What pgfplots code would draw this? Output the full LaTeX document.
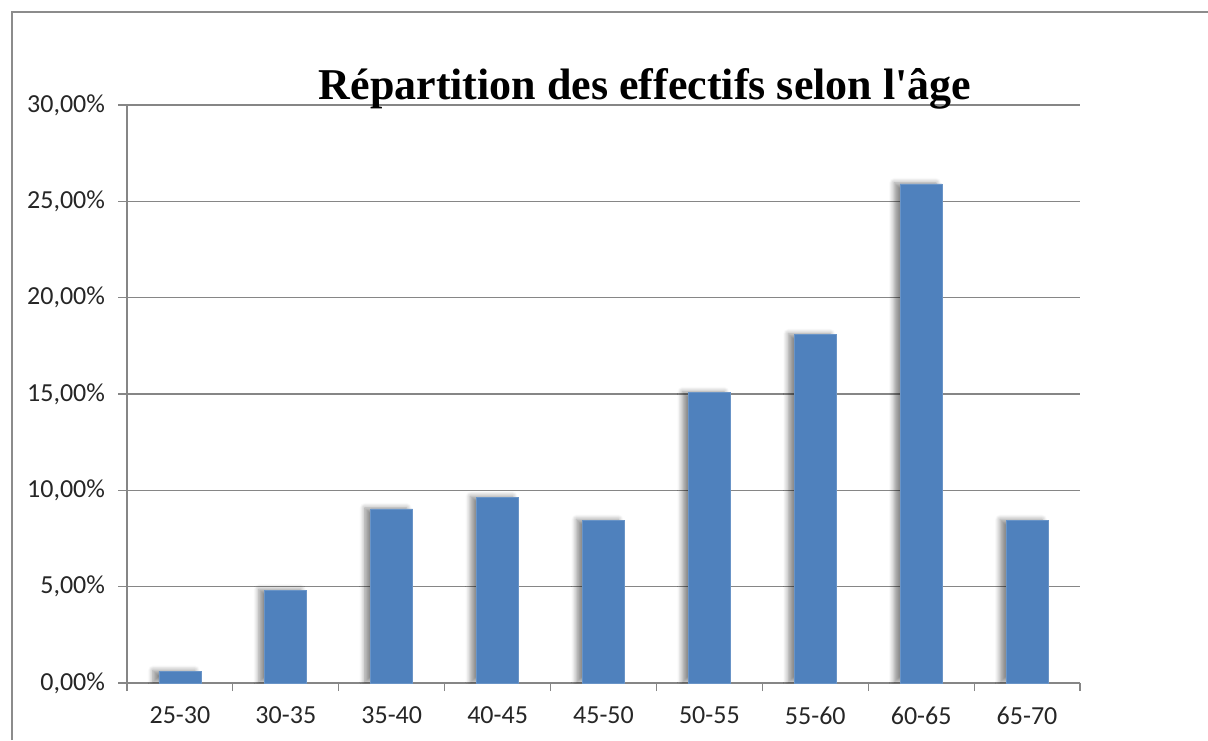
\documentclass[border=0pt]{standalone}
\usepackage{pgfplots}
\pgfplotsset{compat=1.18}
\usepackage{fontspec}
\setmainfont{Carlito}
\newfontfamily\titlefont{Liberation Serif}
\usetikzlibrary{shadows.blur}
\definecolor{barblue}{HTML}{4F81BD}
\definecolor{gridgray}{HTML}{868686}
\definecolor{framegray}{HTML}{8C8C8C}
\begin{document}
\begin{tikzpicture}
\useasboundingbox (0,0) rectangle (604pt,370pt);
\draw[framegray, line width=1pt] (6pt,0) -- (6pt,364pt) -- (604pt,364pt);
\begin{axis}[
  at={(63.5pt,28.5pt)}, anchor=south west,
  scale only axis, width=476.5pt, height=289pt,
  xmin=-0.5, xmax=8.5, ymin=0, ymax=30,
  axis x line*=bottom, axis y line*=left,
  axis line style={gridgray, line width=0.6pt},
  xtick={0,...,8},
  xticklabels={25-30,30-35,35-40,40-45,45-50,50-55,55-60,60-65,65-70},
  major x tick style={draw=none},
  minor xtick={-0.5,0.5,...,8.5},
  minor tick length=4pt,
  tick align=outside,
  ytick={0,5,...,30},
  yticklabels={0{,}00\%,5{,}00\%,10{,}00\%,15{,}00\%,20{,}00\%,25{,}00\%,30{,}00\%},
  major tick length=4.5pt,
  tick style={gridgray, line width=0.6pt},
  ymajorgrids, grid style={gridgray, line width=0.6pt},
  ticklabel style={font=\fontsize{13}{15}\selectfont, text=black!85},
  yticklabel style={xshift=-3pt},
  xticklabel style={yshift=-4pt},
]
\addplot[ybar, bar width=21pt, fill=barblue, draw=barblue!85!white,
  blur shadow={shadow xshift=-3pt, shadow yshift=0.5pt, shadow blur steps=6, shadow blur radius=2.5pt, shadow opacity=45}]
  coordinates {(0,0.602) (1,4.819) (2,9.036) (3,9.639) (4,8.434) (5,15.060) (6,18.072) (7,25.904) (8,8.434)};
\end{axis}
\node[font=\titlefont\bfseries\fontsize{22}{26}\selectfont, anchor=base] at (322.5pt,320pt) {Répartition des effectifs selon l'âge};
\end{tikzpicture}
\end{document}
